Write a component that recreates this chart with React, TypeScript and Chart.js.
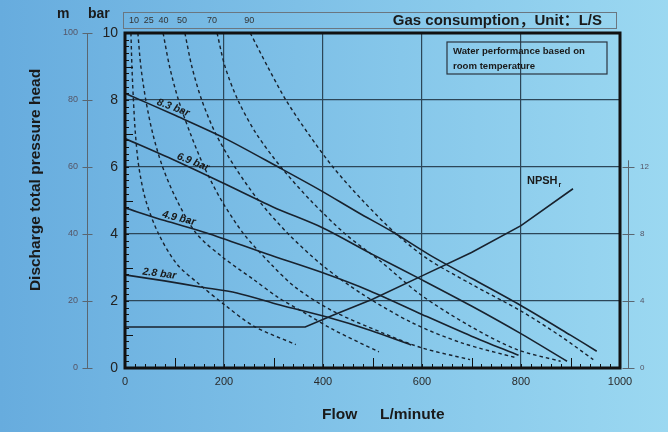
import React, { useEffect, useRef } from 'react';
import { Chart, registerables } from 'chart.js';

Chart.register(...registerables);

const FONT = '"Liberation Sans", Arial, "Noto Sans CJK SC", sans-serif';

// ---- axis ticks ----
const flowTicks = [0, 200, 400, 600, 800, 1000];
const barTicks = [0, 2, 4, 6, 8, 10];
const meterTicks = [0, 20, 40, 60, 80, 100];
const npshTicks = [0, 4, 8, 12];
const gasLabels = ['10', '25', '40', '50', '70', '90'];
const gasLabelFlow = [18, 48, 78, 115, 176, 251];

// ---- air pressure curves (flow L/min, head bar) ----
const pressureNames = ['8.3 bar', '6.9 bar', '4.9 bar', '2.8 bar'];
const p83: [number, number][] = [[0, 8.2], [100, 7.55], [200, 6.87], [313, 5.97], [394, 5.31], [470, 4.65], [541, 4.06], [616, 3.37], [700, 2.68], [798, 1.88], [900, 0.98], [953, 0.5]];
const p69: [number, number][] = [[0, 6.85], [100, 6.2], [198, 5.52], [300, 4.8], [400, 4.18], [495, 3.43], [600, 2.63], [700, 1.85], [798, 1.04], [893, 0.2]];
const p49: [number, number][] = [[0, 4.78], [80, 4.4], [165, 4.03], [287, 3.4], [394, 2.87], [495, 2.3], [600, 1.6], [700, 0.95], [795, 0.38]];
const p28: [number, number][] = [[0, 2.78], [80, 2.6], [152, 2.42], [226, 2.24], [313, 1.88], [408, 1.52], [495, 1.13], [578, 0.69]];

// ---- gas consumption curves (L/S) ----
const g10: [number, number][] = [[12, 10], [14, 9], [17, 8], [21, 7], [28, 6], [42, 5], [68, 4], [105, 3.1], [150, 2.5], [200, 1.9], [260, 1.25], [345, 0.7]];
const g25: [number, number][] = [[26, 10], [32, 9], [42, 8], [56, 7], [76, 6], [105, 5], [145, 4], [198, 3.3], [259, 2.65], [310, 2.1], [368, 1.6], [420, 1.15], [513, 0.48]];
const g40: [number, number][] = [[77, 10], [90, 9], [108, 8], [132, 7], [160, 6], [195, 5], [240, 4], [295, 3.1], [345, 2.4], [420, 1.7], [520, 1.05], [600, 0.6], [697, 0.25]];
const g50: [number, number][] = [[121, 10], [135, 9], [155, 8], [183, 7], [222, 6], [270, 5], [330, 4], [400, 3.05], [480, 2.2], [580, 1.35], [680, 0.75], [792, 0.3]];
const g70: [number, number][] = [[186, 10], [202, 9], [228, 8], [265, 7], [315, 6], [375, 5], [445, 4], [515, 3.2], [596, 2.2], [697, 1.25], [792, 0.55], [880, 0.2]];
const g90: [number, number][] = [[253, 10], [288, 9], [325, 8], [370, 7], [420, 6], [480, 5], [548, 4], [612, 3.25], [700, 2.5], [800, 1.7], [880, 0.95], [946, 0.25]];

// ---- NPSHr (right axis units) ----
const npsh: [number, number][] = [[0, 2.45], [364, 2.45], [420, 3.15], [500, 4.1], [600, 5.5], [700, 6.9], [800, 8.5], [905, 10.7]];

const pressureSeries = [p83, p69, p49, p28];
const gasSeries = [g10, g25, g40, g50, g70, g90];
const labelAnchorFlow = [93, 133, 106, 68];

const LINE = '#18222e';
const GRID = '#2c4658';

function interp(series: [number, number][], f: number) {
  for (let i = 0; i < series.length - 1; i++) {
    const [x0, y0] = series[i];
    const [x1, y1] = series[i + 1];
    if (f >= x0 && f <= x1) return y0 + ((y1 - y0) * (f - x0)) / (x1 - x0);
  }
  return series[series.length - 1][1];
}

const decor = {
  id: 'decor',
  afterDatasetsDraw(chart: any) {
    const { ctx, chartArea: a, scales } = chart;
    const x = scales.x;
    const y = scales.y;
    const y2 = scales.y2;
    const yM = scales.yM;
    ctx.save();

    // minor ticks inside plot
    ctx.strokeStyle = '#111';
    ctx.lineWidth = 1;
    ctx.beginPath();
    for (let f = 20; f < 1000; f += 20) {
      const px = Math.round(x.getPixelForValue(f)) + 0.5;
      const len = f % 200 === 100 ? 10 : 4;
      ctx.moveTo(px, a.bottom);
      ctx.lineTo(px, a.bottom - len);
    }
    for (let i = 1; i < 50; i++) {
      const b = i * 0.2;
      const py = Math.round(y.getPixelForValue(b)) + 0.5;
      const len = i % 10 === 5 ? 8 : 4;
      ctx.moveTo(a.left, py);
      ctx.lineTo(a.left + len, py);
    }
    ctx.stroke();

    // plot border
    ctx.strokeStyle = '#111';
    ctx.lineWidth = 3;
    ctx.strokeRect(a.left, a.top, a.right - a.left, a.bottom - a.top);

    // meter axis line and ticks
    const mx = yM.right + 1.5;
    ctx.strokeStyle = '#5a6670';
    ctx.lineWidth = 1;
    ctx.beginPath();
    ctx.moveTo(mx, yM.getPixelForValue(0));
    ctx.lineTo(mx, yM.getPixelForValue(100));
    meterTicks.forEach((v) => {
      const py = Math.round(yM.getPixelForValue(v)) + 0.5;
      ctx.moveTo(mx - 5, py);
      ctx.lineTo(mx + 5, py);
    });
    ctx.stroke();

    // NPSH axis line and ticks
    const rx = a.right + 8.5;
    ctx.beginPath();
    ctx.moveTo(rx, y2.getPixelForValue(0));
    ctx.lineTo(rx, y2.getPixelForValue(12.4));
    npshTicks.forEach((v) => {
      const py = Math.round(y2.getPixelForValue(v)) + 0.5;
      ctx.moveTo(rx - 6, py);
      ctx.lineTo(rx + 6, py);
    });
    ctx.stroke();

    // top gas-consumption box
    ctx.strokeStyle = '#6a7680';
    ctx.lineWidth = 1;
    ctx.strokeRect(a.left - 1.5, 12.5, a.right - a.left - 2, 16);

    // texts
    ctx.fillStyle = '#1a1a1a';
    ctx.textBaseline = 'middle';
    ctx.font = `bold 14px ${FONT}`;
    ctx.textAlign = 'left';
    ctx.fillText('m', 57, 14);
    ctx.fillText('bar', 88, 14);
    ctx.textAlign = 'right';
    ctx.font = `bold 15px ${FONT}`;
    ctx.fillText('Gas consumption，Unit：L/S', a.right - 18, 21);

    // y title
    ctx.save();
    ctx.translate(36, 180);
    ctx.rotate(-Math.PI / 2);
    ctx.textAlign = 'center';
    ctx.font = `bold 15.5px ${FONT}`;
    ctx.fillText('Discharge total pressure head', 0, 0);
    ctx.restore();

    // x title
    ctx.textAlign = 'left';
    ctx.font = `bold 15.5px ${FONT}`;
    ctx.fillText('Flow', 322, 415);
    ctx.fillText('L/minute', 380, 415);

    // water performance box
    ctx.strokeStyle = '#2a3440';
    ctx.lineWidth = 1.2;
    ctx.strokeRect(447, 42, 160, 32);
    ctx.font = `bold 9.6px ${FONT}`;
    ctx.fillStyle = '#1a1a1a';
    ctx.fillText('Water performance based on', 453, 51);
    ctx.fillText('room temperature', 453, 66);

    // pressure curve labels
    ctx.font = `italic bold 10.5px ${FONT}`;
    ctx.textAlign = 'center';
    ctx.textBaseline = 'bottom';
    pressureSeries.forEach((s, i) => {
      const f = labelAnchorFlow[i];
      const px0 = x.getPixelForValue(f - 25);
      const py0 = y.getPixelForValue(interp(s, f - 25));
      const px1 = x.getPixelForValue(f + 25);
      const py1 = y.getPixelForValue(interp(s, f + 25));
      const ang = Math.atan2(py1 - py0, px1 - px0) * 0.85;
      ctx.save();
      ctx.translate(x.getPixelForValue(f), y.getPixelForValue(interp(s, f)));
      ctx.rotate(ang);
      ctx.fillText(pressureNames[i], 0, -1);
      ctx.restore();
    });

    // NPSHr label
    const nx = x.getPixelForValue(812);
    const ny = y2.getPixelForValue(11.0);
    ctx.textAlign = 'left';
    ctx.textBaseline = 'alphabetic';
    ctx.font = `bold 11px ${FONT}`;
    ctx.fillText('NPSH', nx, ny);
    const w = ctx.measureText('NPSH').width;
    ctx.font = `bold 7px ${FONT}`;
    ctx.fillText('r', nx + w + 1, ny + 3);

    ctx.restore();
  },
};

export default function App() {
  const ref = useRef<HTMLCanvasElement | null>(null);

  useEffect(() => {
    document.body.style.margin = '0';
    const canvas = ref.current;
    if (!canvas) return;

    const toPts = (s: [number, number][]) => s.map(([fx, fy]) => ({ x: fx, y: fy }));

    const datasets: any[] = [];
    pressureSeries.forEach((s, i) => {
      datasets.push({
        label: pressureNames[i],
        data: toPts(s),
        showLine: true,
        borderColor: LINE,
        borderWidth: 1.6,
        pointRadius: 0,
        tension: 0.3,
        fill: false,
        xAxisID: 'x',
        yAxisID: 'y',
      });
    });
    gasSeries.forEach((s, i) => {
      datasets.push({
        label: gasLabels[i] + ' L/S',
        data: toPts(s),
        showLine: true,
        borderColor: LINE,
        borderWidth: 1.4,
        borderDash: [3.5, 3],
        pointRadius: 0,
        tension: 0.3,
        fill: false,
        xAxisID: 'x',
        yAxisID: 'y',
      });
    });
    datasets.push({
      label: 'NPSHr',
      data: toPts(npsh),
      showLine: true,
      borderColor: LINE,
      borderWidth: 1.6,
      pointRadius: 0,
      tension: 0,
      fill: false,
      xAxisID: 'x',
      yAxisID: 'y2',
    });

    const noEdge = (lo: number, hi: number) => (c: any) =>
      c.tick && (c.tick.value === lo || c.tick.value === hi) ? 'rgba(0,0,0,0)' : GRID;

    const chart = new Chart(canvas, {
      type: 'scatter',
      data: { datasets },
      plugins: [decor],
      options: {
        animation: false,
        responsive: false,
        maintainAspectRatio: false,
        layout: { padding: 0 },
        plugins: { legend: { display: false }, tooltip: { enabled: false }, title: { display: false } },
        scales: {
          x: {
            type: 'linear',
            position: 'bottom',
            min: 0,
            max: 1000,
            afterBuildTicks: (s: any) => { s.ticks = flowTicks.map((v) => ({ value: v })); },
            ticks: { callback: (v: any) => String(v), font: { size: 11, family: FONT }, color: '#2a2a2a', padding: 7, maxRotation: 0, autoSkip: false },
            grid: { color: noEdge(0, 1000), lineWidth: 1.2, drawTicks: false },
            border: { display: false },
            afterFit: (s: any) => { s.height = 64; },
          },
          xTop: {
            type: 'linear',
            position: 'top',
            min: 0,
            max: 1000,
            afterBuildTicks: (s: any) => { s.ticks = gasLabelFlow.map((v) => ({ value: v })); },
            ticks: {
              callback: (_v: any, i: number) => gasLabels[i],
              font: { size: 9, family: FONT },
              color: '#333',
              padding: 7,
              maxRotation: 0,
              autoSkip: false,
            },
            grid: { display: false, drawTicks: false },
            border: { display: false },
            afterFit: (s: any) => { s.height = 33; },
          },
          yM: {
            type: 'linear',
            position: 'left',
            weight: 1,
            min: 0,
            max: 100,
            afterBuildTicks: (s: any) => { s.ticks = meterTicks.map((v) => ({ value: v })); },
            ticks: { font: { size: 9, family: FONT }, color: '#556', padding: 8 },
            grid: { display: false, drawTicks: false },
            border: { display: false },
            afterFit: (s: any) => { s.width = 86; },
          },
          y: {
            type: 'linear',
            position: 'left',
            weight: 0,
            min: 0,
            max: 10,
            afterBuildTicks: (s: any) => { s.ticks = barTicks.map((v) => ({ value: v })); },
            ticks: { font: { size: 14, family: FONT }, color: '#222', padding: 7 },
            grid: { color: noEdge(0, 10), lineWidth: 1.2, drawTicks: false },
            border: { display: false },
            afterFit: (s: any) => { s.width = 39; },
          },
          y2: {
            type: 'linear',
            position: 'right',
            min: 0,
            max: 20,
            afterBuildTicks: (s: any) => { s.ticks = npshTicks.map((v) => ({ value: v })); },
            ticks: { font: { size: 8, family: FONT }, color: '#556', padding: 20 },
            grid: { display: false, drawTicks: false },
            border: { display: false },
            afterFit: (s: any) => { s.width = 48; },
          },
        },
      } as any,
    });

    return () => chart.destroy();
  }, []);

  return (
    <div
      style={{
        width: 668,
        height: 432,
        background: 'linear-gradient(to right, #67acde 0%, #86c7ea 60%, #9bd8f1 100%)',
      }}
    >
      <canvas ref={ref} width={668} height={432} style={{ display: 'block' }} />
    </div>
  );
}
